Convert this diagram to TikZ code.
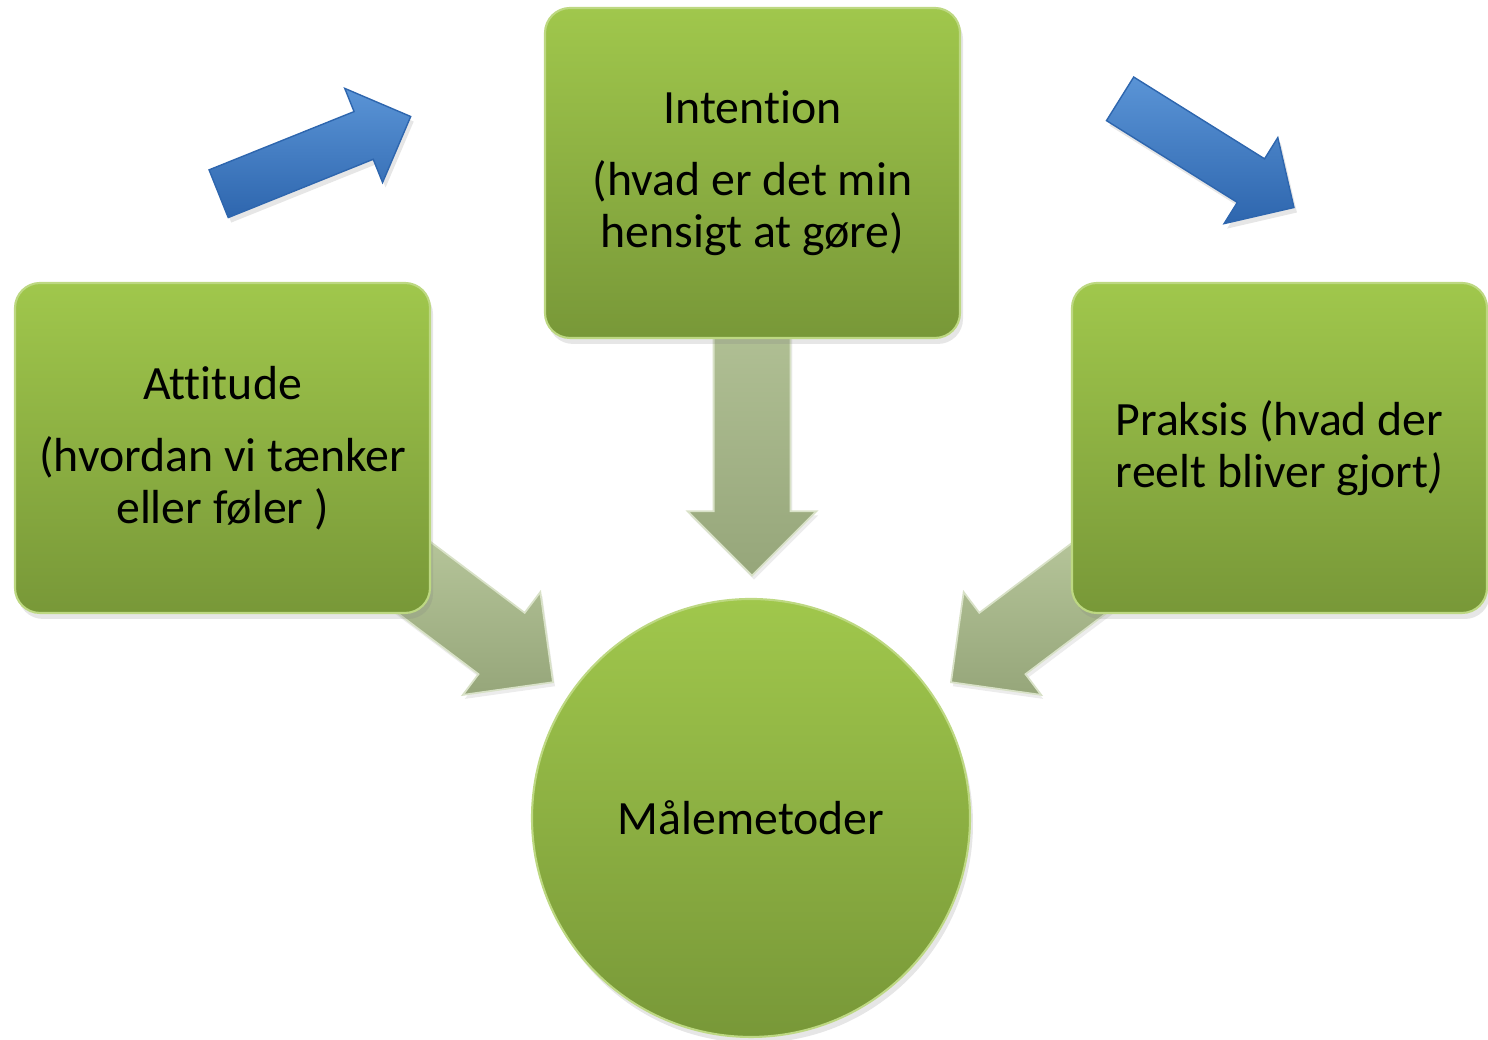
\documentclass[tikz,border=0pt]{standalone}
\usepackage{fontspec}
\setmainfont[Ligatures={TeX,NoCommon}]{Carlito}
\usepackage{tikz}
\usetikzlibrary{shapes.arrows,shadows}

\definecolor{boxtop}{RGB}{160,199,76}
\definecolor{boxbottom}{RGB}{120,152,56}
\definecolor{flowtail}{RGB}{190,205,162}
\definecolor{flowtip}{RGB}{150,166,122}
\definecolor{bluetop}{RGB}{90,148,214}
\definecolor{bluebottom}{RGB}{46,102,174}

\tikzset{
	greenbox/.style={rectangle, rounded corners=0.25cm, minimum width=4.15cm, minimum height=3.3cm,
		top color=boxtop, bottom color=boxbottom, draw=boxtop!70!white, line width=0.6pt,
		drop shadow={shadow xshift=0.03cm, shadow yshift=-0.06cm, opacity=0.2},
		align=center, font=\fontsize{13.6}{14.8}\selectfont},
	greencircle/.style={circle, minimum size=4.38cm, inner sep=0pt,
		top color=boxtop, bottom color=boxbottom, draw=boxtop!70!white, line width=0.6pt,
		drop shadow={shadow xshift=0.03cm, shadow yshift=-0.06cm, opacity=0.2},
		font=\fontsize{13.6}{14.8}\selectfont},
	flowarrow/.style={single arrow, single arrow head extend=0.26cm, inner xsep=0pt, inner ysep=0.375cm,
		minimum width=1.27cm, top color=flowtail, bottom color=flowtip, draw=flowtail!60!white, line width=0.5pt,
		drop shadow={shadow xshift=0.02cm, shadow yshift=-0.04cm, opacity=0.15}},
	bluearrow/.style={single arrow, single arrow head extend=0.25cm, inner xsep=0pt, inner ysep=0.25cm,
		minimum width=1.0cm, top color=bluetop, bottom color=bluebottom, draw=bluebottom, line width=0.4pt,
		drop shadow={shadow xshift=0.03cm, shadow yshift=-0.05cm, opacity=0.2}}
}

\begin{document}
\begin{tikzpicture}
	%%%%% START %%%%%
	\useasboundingbox (0, 0) rectangle (14.88, 10.40);
	
	% grey-green arrows, under the boxes
	\node[flowarrow, minimum height=3.77cm, rotate=-90, anchor=tip] (downflow) at (7.52, 4.63) {};
	\node[flowarrow, minimum height=2.6cm, rotate=-37, anchor=tip] (leftflow) at (5.54, 3.57) {};
	\node[flowarrow, minimum height=2.6cm, rotate=-143, anchor=tip] (rightflow) at (9.50, 3.57) {};
	
	\node[greenbox] (attitude) at (2.225, 5.92) {Attitude\\[5.7pt](hvordan vi tænker\\eller føler )};
	\node[greenbox] (intention) at (7.525, 8.67) {Intention\\[5.7pt](hvad er det min\\hensigt at gøre)};
	\node[greenbox] (praksis) at (12.795, 5.92) {Praksis (hvad der\\reelt bliver gjort\textit{)}};
	
	\node[greencircle] (maalemetoder) at (7.51, 2.22) {Målemetoder};
	
	% blue arrows
	\node[bluearrow, minimum height=2.07cm, rotate=21.9, anchor=tail] (upblue) at (2.18, 8.46) {};
	\node[bluearrow, minimum height=2.05cm, rotate=-32, anchor=tail] (downblue) at (11.195, 9.415) {};
	
	%%%%% END %%%%%
\end{tikzpicture}
\end{document}
